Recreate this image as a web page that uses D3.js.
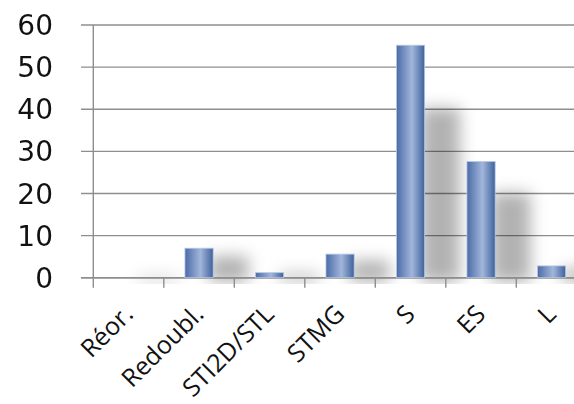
<!DOCTYPE html>
<html><head><meta charset="utf-8">
<script src="https://cdn.jsdelivr.net/npm/d3@7"></script>
<style>body{margin:0;background:#fff}svg{display:block}</style>
</head><body>
<script>
const categories = ["Réor.", "Redoubl.", "STI2D/STL", "STMG", "S", "ES", "L"];
const values = [0, 7.0, 1.2, 5.6, 55.2, 27.6, 2.8];
const yTicks = [0, 10, 20, 30, 40, 50, 60];

const W = 574, H = 404;
const svg = d3.select("body").append("svg").attr("width", W).attr("height", H);
const defs = svg.append("defs");

const grad = defs.append("linearGradient").attr("id", "barGrad").attr("x1", "0").attr("x2", "1").attr("y1", "0").attr("y2", "0");
grad.append("stop").attr("offset", "0%").attr("stop-color", "#4b6ca8");
grad.append("stop").attr("offset", "55%").attr("stop-color", "#a2b6da");
grad.append("stop").attr("offset", "100%").attr("stop-color", "#3f629c");

const blur = defs.append("filter").attr("id", "shadow").attr("x", "-50%").attr("y", "-50%").attr("width", "200%").attr("height", "200%");
blur.append("feGaussianBlur").attr("stdDeviation", 8);

const x0 = 93.3, step = 70.5;
const x = d3.scaleBand().domain(categories).range([x0, x0 + step * categories.length]).paddingInner(0.6).paddingOuter(0.3);
const y = d3.scaleLinear().domain([0, 60]).range([277.7, 25]);

// gridlines
svg.append("g").selectAll("line").data(yTicks).join("line")
  .attr("x1", 81).attr("x2", W).attr("y1", d => y(d)).attr("y2", d => y(d))
  .attr("stroke", "#8e8e8e").attr("stroke-width", 1.4);

// shadows
const clip = defs.append("clipPath").attr("id", "plotClip");
clip.append("rect").attr("x", x0 + 1).attr("y", 0).attr("width", W).attr("height", y(0) + 6);
svg.append("g").attr("clip-path", "url(#plotClip)").append("g").attr("filter", "url(#shadow)")
  .selectAll("rect").data(values.map((v, i) => ({c: categories[i], v}))).join("rect")
  .attr("x", d => x(d.c) + x.bandwidth() * 0.85)
  .attr("width", x.bandwidth() * 1.4)
  .attr("y", d => y(d.v) + (y(0) - y(d.v)) * 0.27)
  .attr("height", d => (y(0) - y(d.v)) * 0.73 + 4)
  .attr("fill", "#000").attr("opacity", 0.3);

// y axis line
svg.append("line").attr("x1", x0).attr("x2", x0).attr("y1", y(60)).attr("y2", y(0) + 10)
  .attr("stroke", "#8e8e8e").attr("stroke-width", 1.4);
svg.append("line").attr("x1", 81).attr("x2", W).attr("y1", y(0)).attr("y2", y(0))
  .attr("stroke", "#8e8e8e").attr("stroke-width", 1.4);

// x ticks at category boundaries
const bounds = categories.map(c => x(c) - x.step() * 0.3).slice(1);
svg.append("g").selectAll("line").data(bounds).join("line")
  .attr("x1", d => d).attr("x2", d => d).attr("y1", y(0)).attr("y2", y(0) + 10)
  .attr("stroke", "#8e8e8e").attr("stroke-width", 1.4);

// bars
svg.append("g").selectAll("rect").data(values.map((v, i) => ({c: categories[i], v}))).join("rect")
  .attr("x", d => x(d.c)).attr("width", x.bandwidth())
  .attr("y", d => y(d.v)).attr("height", d => y(0) - y(d.v))
  .attr("fill", "url(#barGrad)")
  .attr("stroke", d => d.v > 0 ? "#b9c9e6" : "none").attr("stroke-width", 0.8);

// y labels
svg.append("g").selectAll("text").data(yTicks).join("text")
  .attr("x", 53).attr("y", d => y(d)).attr("dy", "0.36em")
  .attr("text-anchor", "end").attr("font-family", "DejaVu Sans").attr("font-size", 28).attr("fill", "#111")
  .text(d => d);

// x labels
svg.append("g").selectAll("text").data(categories).join("text")
  .attr("transform", c => `translate(${x(c) + x.bandwidth() / 2 + 6},${y(0) + 38}) rotate(-45)`)
  .attr("text-anchor", "end").attr("font-family", "Open Sans").attr("font-size", 25).attr("fill", "#111")
  .text(c => c);
</script>
</body></html>
